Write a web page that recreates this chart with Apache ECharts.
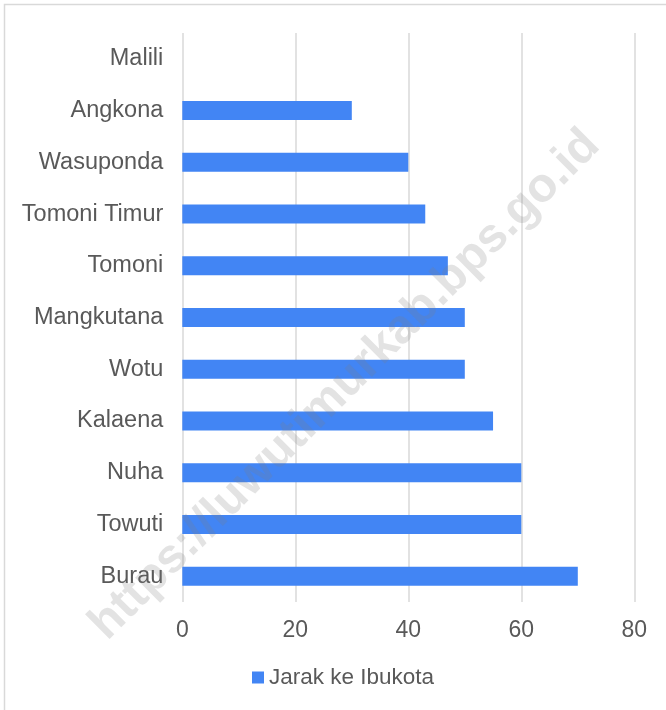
<!DOCTYPE html>
<html>
<head>
<meta charset="utf-8">
<script src="https://cdn.jsdelivr.net/npm/echarts@6/dist/echarts.min.js"></script>
<style>
  html, body { margin: 0; padding: 0; background: #fff; }
  #chart { width: 666px; height: 710px; }
</style>
</head>
<body>
<div id="chart"></div>
<script>
  // kecamatan, bottom to top as drawn
  var kecamatan = ['Burau', 'Towuti', 'Nuha', 'Kalaena', 'Wotu', 'Mangkutana', 'Tomoni', 'Tomoni Timur', 'Wasuponda', 'Angkona', 'Malili'];
  var jarak = [70, 60, 60, 55, 50, 50, 47, 43, 40, 30, 0];
  var xTicks = [0, 20, 40, 60, 80];
  var seriesName = 'Jarak ke Ibukota';
  var watermark = 'https://luwutimurkab.bps.go.id';

  var font = '"Liberation Sans", Arial, sans-serif';
  var chart = echarts.init(document.getElementById('chart'));
  chart.setOption({
    backgroundColor: '#fff',
    animation: false,
    textStyle: { fontFamily: font },
    grid: { left: 182.3, right: 31.7, top: 33, bottom: 108, containLabel: false },
    legend: {
      data: [seriesName],
      left: 252,
      top: 666,
      padding: 0,
      itemWidth: 12,
      itemHeight: 12,
      icon: 'rect',
      textStyle: { color: '#595959', fontSize: 22.5, fontFamily: font }
    },
    xAxis: {
      type: 'value',
      min: xTicks[0],
      max: xTicks[xTicks.length - 1],
      interval: 20,
      axisLine: { show: false },
      axisTick: { show: false },
      splitLine: { show: true, lineStyle: { color: '#d9d9d9', width: 1.5 } },
      axisLabel: { color: '#595959', fontSize: 23, margin: 17, fontFamily: font }
    },
    yAxis: {
      type: 'category',
      data: kecamatan,
      axisLine: { show: false },
      axisTick: { show: false },
      axisLabel: { color: '#595959', fontSize: 23.5, margin: 19, fontFamily: font }
    },
    series: [{
      name: seriesName,
      type: 'bar',
      data: jarak,
      barWidth: 19,
      itemStyle: { color: '#4285f4' }
    }],
    graphic: [
      {
        type: 'rect',
        shape: { x: 4.5, y: 4.5, width: 720, height: 720 },
        style: { fill: 'none', stroke: '#d9d9d9', lineWidth: 1.5 },
        silent: true
      },
      {
        type: 'text',
        x: 345,
        y: 385,
        rotation: Math.PI / 4,
        z: 100,
        silent: true,
        style: {
          text: watermark,
          x: 0,
          y: 0,
          align: 'center',
          verticalAlign: 'middle',
          fontSize: 48,
          fontWeight: 'bold',
          fontFamily: font,
          fill: 'rgba(128,128,128,0.22)'
        }
      }
    ]
  });
</script>
</body>
</html>
